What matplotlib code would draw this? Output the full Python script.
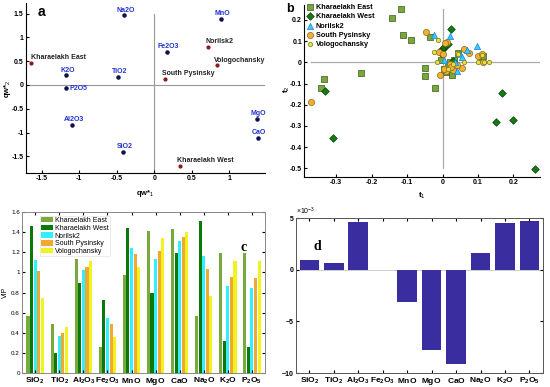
import matplotlib
matplotlib.use('Agg')
import matplotlib.pyplot as plt
import numpy as np

plt.rcParams['font.family'] = 'Liberation Sans'
plt.rcParams['font.size'] = 6
plt.rcParams['mathtext.fontset'] = 'custom'
plt.rcParams['mathtext.rm'] = 'Liberation Sans'
plt.rcParams['mathtext.bf'] = 'Liberation Sans:bold'
plt.rcParams['mathtext.it'] = 'Liberation Sans:italic'

# ── panel a : loadings ───────────────
oxide_names = ['Na2O', 'MnO', 'Fe2O3', 'K2O', 'TiO2', 'P2O5', 'Al2O3', 'SiO2', 'MgO', 'CaO']
oxide_x = [-0.40, 0.89, 0.17, -1.17, -0.48, -1.17, -1.09, -0.41, 1.37, 1.38]
oxide_y = [1.46, 1.38, 0.70, 0.20, 0.16, -0.07, -0.84, -1.40, -0.72, -1.11]

site_names = ['Kharaelakh East', 'Norilsk2', 'Vologochansky', 'South Pysinsky', 'Kharaelakh West']
site_x = [-1.64, 0.72, 0.84, 0.15, 0.34]
site_y = [0.46, 0.80, 0.41, 0.13, -1.71]

# ── panel b : scores ─────────────────
ke_t1 = [-0.117, -0.142, -0.110, -0.090, -0.036, -0.231, -0.333, -0.343, -0.048, -0.048,
         -0.021, 0.027, 0.011, 0.032, 0.004, 0.020, 0.045, 0.112, 0.115, -0.005, 0.015]
ke_t2 = [0.250, 0.210, 0.127, 0.105, 0.118, -0.052, -0.077, -0.120, -0.025, -0.066,
         -0.122, -0.062, -0.047, 0.012, -0.030, 0.000, 0.045, 0.020, 0.030, 0.010, -0.020]
kw_t1 = [-0.330, -0.310, 0.168, 0.150, 0.199, 0.262, 0.025, -0.008, 0.000, 0.005, 0.010, 0.015, 0.030, -0.005]
kw_t2 = [-0.135, -0.355, -0.145, -0.280, -0.273, -0.505, 0.155, 0.055, 0.065, 0.070, 0.080, 0.085, 0.005, 0.045]
no_t1 = [-0.024, 0.021, 0.098, 0.050, 0.054, 0.041, 0.070, 0.003, 0.035]
no_t2 = [0.130, 0.122, 0.078, 0.040, 0.025, -0.042, 0.060, 0.010, 0.000]
sp_t1 = [-0.370, -0.046, 0.014, 0.007, 0.061, 0.074, 0.100, 0.110, 0.113, -0.007, 0.010,
         0.030, 0.055, -0.010, 0.040, 0.020, 0.000, 0.005, 0.025]
sp_t2 = [-0.188, 0.142, 0.098, 0.090, 0.063, 0.044, 0.030, 0.040, 0.000, -0.058, -0.040,
         -0.035, -0.025, 0.048, -0.015, -0.010, 0.040, -0.030, -0.020]
vo_t1 = [-0.012, -0.023, 0.040, 0.110, 0.100, 0.131, 0.117, -0.015, 0.030, 0.015, 0.045, 0.060]
vo_t2 = [0.106, 0.048, 0.045, 0.036, 0.000, 0.000, 0.000, 0.002, -0.010, -0.030, 0.040, 0.000]

# ── panel c : VIP ────────────────────
oxides = [r'$\mathbf{SiO_2}$', r'$\mathbf{TiO_2}$', r'$\mathbf{Al_2O_3}$', r'$\mathbf{Fe_2O_3}$',
          r'$\mathbf{MnO}$', r'$\mathbf{MgO}$', r'$\mathbf{CaO}$', r'$\mathbf{Na_2O}$',
          r'$\mathbf{K_2O}$', r'$\mathbf{P_2O_5}$']
vip_ke = [0.57, 0.487, 1.136, 0.258, 0.973, 1.407, 1.434, 0.57, 1.19, 1.19]
vip_kw = [1.457, 0.20, 0.894, 0.725, 1.44, 0.795, 1.192, 1.507, 0.32, 0.255]
vip_no = [1.12, 0.364, 1.023, 0.55, 1.24, 1.132, 1.315, 1.159, 0.861, 0.845]
vip_sp = [1.01, 0.397, 1.053, 0.49, 1.18, 1.209, 1.348, 1.036, 0.95, 0.944]
vip_vo = [0.745, 0.46, 1.109, 0.354, 1.05, 1.341, 1.404, 0.762, 1.116, 1.113]

# ── panel d : coefficients (x 10^-3) ─
coef = [0.97, 0.71, 4.61, -0.05, -3.13, -7.74, -9.1, 1.61, 4.52, 4.74]

fig = plt.figure(figsize=(5.5, 3.87), dpi=100)
fig.patch.set_facecolor('white')


def bold_ticks(ax):
    for l in ax.get_xticklabels() + ax.get_yticklabels():
        l.set_fontweight('bold')


# ── a ────────────────────────────────
ax = fig.add_axes([0.047, 0.553, 0.434, 0.439])
ax.axhline(0, color='#999999', lw=0.8, zorder=0)
ax.plot([0, 0], [-1.85, 1.5], color='#999999', lw=0.8, zorder=0)
ax.scatter(oxide_x, oxide_y, s=5, color='#101050', zorder=3)
ax.scatter(site_x, site_y, s=4, color='#8B1A1A', zorder=3)
for n, x, y in zip(oxide_names, oxide_x, oxide_y):
    if n == 'P2O5':
        ax.text(x + 0.04, y, n, color='#2233CC', fontsize=5, fontweight='bold', ha='left', va='center')
    else:
        ax.text(x + 0.02, y + 0.04, n, color='#2233CC', fontsize=5, fontweight='bold', ha='center', va='bottom')
for n, x, y in zip(site_names, site_x, site_y):
    ax.text(x - 0.04 if n != 'Kharaelakh East' else x, y + 0.04, n, color='#222222',
            fontsize=5, fontweight='bold', ha='left', va='bottom')
ax.set_xlim(-1.71, 1.47)
ax.set_ylim(-1.85, 1.72)
ax.set_xticks([-1.5, -1, -0.5, 0, 0.5, 1])
ax.set_xticklabels(['-1.5', '-1', '-0.5', '0', '0.5', '1'])
ax.set_yticks([-1.5, -1, -0.5, 0, 0.5, 1, 1.5])
ax.set_yticklabels(['-1.5', '-1', '-0.5', '0', '0.5', '1', '1.5'])
ax.spines['top'].set_visible(False)
ax.spines['right'].set_visible(False)
ax.tick_params(labelsize=5, length=2, direction='in', pad=1.5)
bold_ticks(ax)
ax.set_xlabel(r'qw*$_1$', fontsize=5.5, fontweight='bold')
ax.xaxis.set_label_coords(0.5, -0.09)
fig.text(0.004, 0.77, r'qw*$_2$', fontsize=5.5, fontweight='bold', rotation=90,
         ha='left', va='center')
ax.text(0.05, 0.95, 'a', transform=ax.transAxes, fontsize=10, fontweight='bold', va='center')

# ── b ────────────────────────────────
ax = fig.add_axes([0.553, 0.543, 0.429, 0.444])
ax.plot([-0.37, 0.275], [0, 0], color='#aaaaaa', lw=0.9, zorder=0)
ax.plot([0, 0], [-0.5, 0.25], color='#aaaaaa', lw=0.9, zorder=0)
ax.scatter(ke_t1, ke_t2, marker='s', s=15, color='#78A83C', edgecolor='#3C5A1E', lw=0.5, label='Kharaelakh East', zorder=3)
ax.scatter(kw_t1, kw_t2, marker='D', s=15, color='#157A15', edgecolor='#0A3F0A', lw=0.5, label='Kharaelakh West', zorder=3)
ax.scatter(no_t1, no_t2, marker='^', s=20, color='#33CCFF', edgecolor='#2080D0', lw=0.5, label='Norilsk2', zorder=4)
ax.scatter(sp_t1, sp_t2, marker='o', s=20, color='#F0B030', edgecolor='#8A6A20', lw=0.5, label='South Pysinsky', zorder=3)
ax.scatter(vo_t1, vo_t2, marker='o', s=10, color='#E8E040', edgecolor='#7A7A20', lw=0.5, label='Vologochansky', zorder=4)
ax.set_xlim(-0.39, 0.275)
ax.set_ylim(-0.54, 0.27)
ax.set_xticks([-0.3, -0.2, -0.1, 0, 0.1, 0.2])
ax.set_xticklabels(['-0.3', '-0.2', '-0.1', '0', '0.1', '0.2'])
ax.set_yticks([-0.5, -0.4, -0.3, -0.2, -0.1, 0, 0.1, 0.2])
ax.set_yticklabels(['-0.5', '-0.4', '-0.3', '-0.2', '-0.1', '0', '0.1', '0.2'])
ax.spines['top'].set_visible(False)
ax.spines['right'].set_visible(False)
ax.tick_params(labelsize=5, length=2, direction='in', pad=1.5)
bold_ticks(ax)
ax.set_xlabel(r't$_1$', fontsize=6, fontweight='bold')
ax.xaxis.set_label_coords(0.5, -0.08)
fig.text(0.513, 0.77, r't$_2$', fontsize=6, fontweight='bold', rotation=90,
         ha='left', va='center')
ax.text(-0.075, 0.975, 'b', transform=ax.transAxes, fontsize=9, fontweight='bold', va='center')
leg = ax.legend(loc='upper left', bbox_to_anchor=(-0.01, 1.035), frameon=False, fontsize=5.2,
                handletextpad=0.2, borderpad=0.2, labelspacing=0.3, handlelength=1.0)
for t in leg.get_texts():
    t.set_fontweight('bold')

# ── c ────────────────────────────────
ax = fig.add_axes([0.040, 0.036, 0.442, 0.416])
pos = np.arange(1, len(oxides) + 1)
w = 0.15
series = [(vip_ke, '#78AA3C', 'Kharaelakh East'), (vip_kw, '#0B780B', 'Kharaelakh West'),
          (vip_no, '#33EEFF', 'Norilsk2'), (vip_sp, '#F0A830', 'South Pysinsky'),
          (vip_vo, '#F2F21E', 'Vologochansky')]
for i, (vals, col, lab) in enumerate(series):
    ax.bar(pos + (i - 2) * w, vals, width=w * 0.85, color=col, label=lab)
ax.set_xlim(0.45, 10.55)
ax.set_ylim(0, 1.6)
ax.set_xticks(pos)
ax.set_xticklabels(oxides, fontsize=6)
ax.set_yticks(np.arange(0, 1.61, 0.2))
ax.set_yticklabels(['0', '0.2', '0.4', '0.6', '0.8', '1', '1.2', '1.4', '1.6'])
ax.tick_params(axis='y', labelsize=4.5, length=2, direction='in', right=True, pad=1.5)
ax.tick_params(axis='x', length=2, direction='in', top=True, pad=2)
for s in ax.spines.values():
    s.set_color('#888888')
    s.set_linewidth(0.7)
ax.set_ylabel('VIP', fontsize=5)
ax.yaxis.set_label_coords(-0.055, 0.5)
ax.text(0.9, 0.78, 'c', transform=ax.transAxes, fontsize=10, fontweight='bold',
        family='Liberation Serif', va='center')
leg = ax.legend(loc='upper left', bbox_to_anchor=(0.06, 1.0), fontsize=5, frameon=True,
                fancybox=False, edgecolor='#dddddd', handlelength=1.7, handleheight=0.8,
                handletextpad=0.2, borderpad=0.2, labelspacing=0.1)
leg.get_frame().set_linewidth(0.5)

# ── d ────────────────────────────────
ax = fig.add_axes([0.538, 0.036, 0.449, 0.40])
ax.bar(pos, coef, width=0.8, color='#3A2DA0')
ax.axhline(0, color='#bbbbbb', lw=0.5, zorder=0)
ax.set_xlim(0.45, 10.55)
ax.set_ylim(-10, 5)
ax.set_yticks([-10, -5, 0, 5])
ax.set_xticks(pos)
ax.set_xticklabels(oxides, fontsize=6)
ax.tick_params(axis='y', labelsize=5, length=2, direction='in', right=True, pad=1.5)
ax.tick_params(axis='x', length=2, direction='in', top=True, pad=2)
bold_ticks(ax)
for s in ax.spines.values():
    s.set_color('#555555')
    s.set_linewidth(0.7)
ax.text(0.0, 1.01, r'$\times$10$^{-3}$', transform=ax.transAxes, fontsize=5, va='bottom', ha='left')
ax.text(0.07, 0.82, 'd', transform=ax.transAxes, fontsize=10, fontweight='bold',
        family='Liberation Serif', va='center')

plt.savefig('out.png', dpi=100, facecolor='white')
plt.close()
